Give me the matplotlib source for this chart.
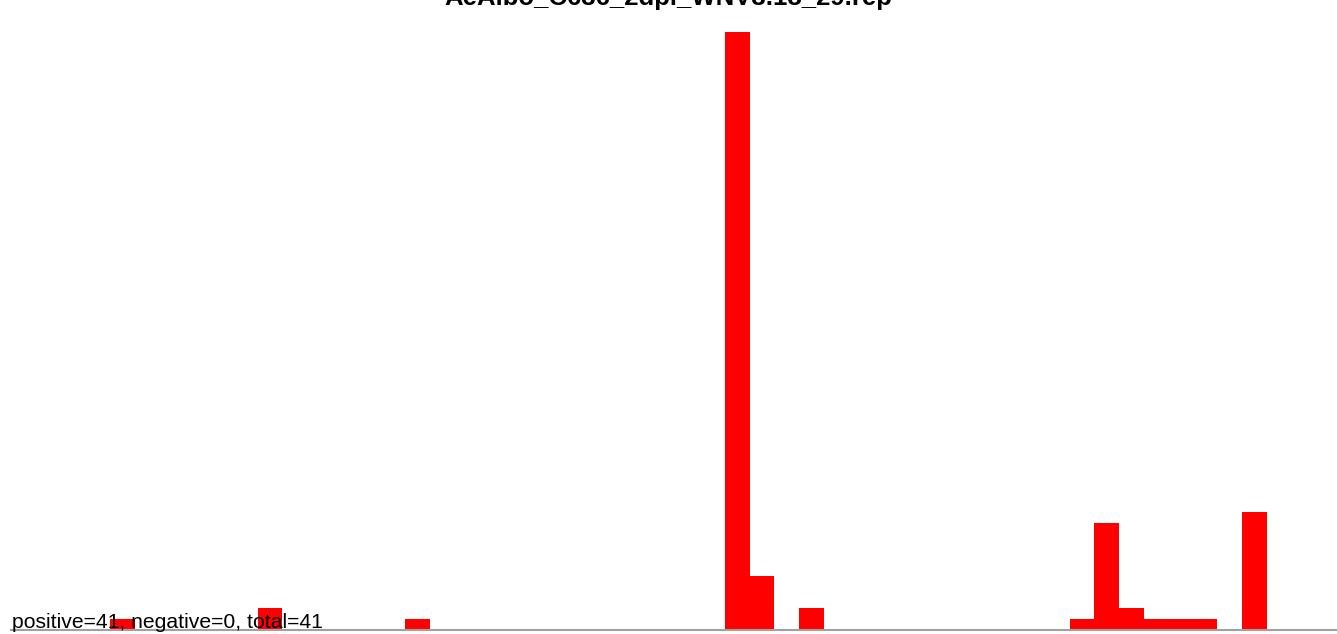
import matplotlib
matplotlib.use("Agg")
import matplotlib.pyplot as plt

title = "AeAlbo_C636_2dpi_WNV3.18_29.rep"
summary = "positive=41, negative=0, total=41"
bins = [4, 10, 16, 29, 30, 32, 43, 44, 45, 46, 47, 48, 50]
counts = [1, 2, 1, 56, 5, 2, 1, 10, 2, 1, 1, 1, 11]
n_bins = 54

plt.rcParams['font.family'] = ['Liberation Sans', 'DejaVu Sans']
W, H = 1337, 634
fig = plt.figure(figsize=(W / 100, H / 100), dpi=100)
left, right, top, bottom = 11.5, 1340.5, 32, 629.5
ax = fig.add_axes([left / W, (H - bottom) / H, (right - left) / W, (bottom - top) / H])
ax.bar(bins, counts, width=1, align='edge', color='#ff0000', linewidth=0)
ax.set_xlim(0, n_bins)
ax.set_ylim(0, max(counts))
for s in ax.spines.values():
    s.set_visible(False)
ax.set_xticks([])
ax.set_yticks([])
ax.axhline(0, color='#a0a0a0', linewidth=1.5, clip_on=False)
fig.text(0.5, 1 - 4.5 / H, title, ha='center', va='baseline', fontsize=18.5, fontweight='bold')
fig.text(12 / W, 1 - 628.5 / H, summary, ha='left', va='baseline', fontsize=15.2)
fig.savefig("out.png", dpi=100)
